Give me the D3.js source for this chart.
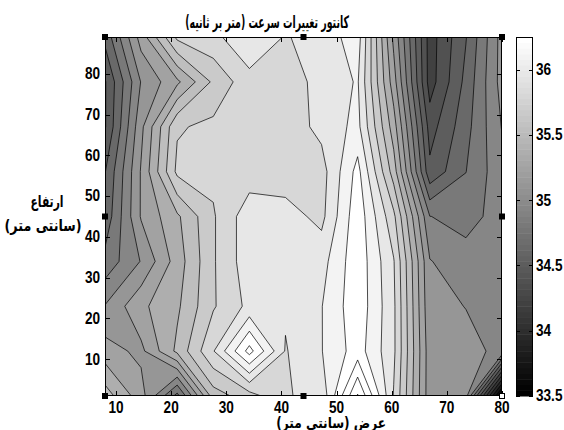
<!DOCTYPE html>
<html>
<head>
<meta charset="utf-8">
<script src="https://cdn.jsdelivr.net/npm/d3@7/dist/d3.min.js"></script>
<style>
  html, body { margin: 0; padding: 0; background: #fff; }
  svg { display: block; }
  .num { font-family: "Liberation Sans", Arial, sans-serif; font-weight: bold; font-size: 16px; fill: #000; }
  .fa  { font-family: "DejaVu Sans", sans-serif; font-weight: bold; fill: #000; direction: rtl; unicode-bidi: embed; }
</style>
</head>
<body>
<svg id="chart" width="564" height="430"></svg>
<script>
// Measurement grid: horizontal positions and heights (cm)
const widthCm  = [8, 14.55, 21.09, 27.64, 34.18, 40.73, 47.27, 53.82, 60.36, 66.91, 73.45, 80];
const heightCm = [1, 12, 23, 34, 45, 56, 67, 78, 89];

// Measured speed (m/s), one row per height, left to right across the width
const speedAt1  = [35.6, 35.3, 34.75, 35.6, 35.75, 35.95, 36.0, 36.7, 35.95, 35.15, 35.15, 33.5];
const speedAt12 = [35.3, 35.2, 35.56, 35.95, 36.45, 35.95, 36.1, 36.32, 35.99, 35.15, 35.12, 35.07];
const speedAt23 = [35.1, 35.35, 35.5, 35.8, 36.0, 35.98, 36.1, 36.35, 35.99, 35.12, 35.09, 35.0];
const speedAt34 = [34.85, 35.1, 35.45, 35.8, 36.05, 36.02, 36.05, 36.35, 35.97, 35.1, 35.0, 35.0];
const speedAt45 = [34.7, 35.25, 35.5, 35.8, 36.05, 36.02, 35.92, 36.35, 35.85, 34.95, 34.9, 35.0];
const speedAt56 = [34.65, 35.25, 35.85, 35.85, 35.88, 35.88, 35.9, 36.3, 35.6, 34.55, 34.8, 35.05];
const speedAt67 = [34.5, 35.2, 35.8, 35.85, 35.85, 35.88, 36.0, 36.15, 35.45, 34.45, 34.75, 35.1];
const speedAt78 = [34.5, 35.1, 35.35, 35.7, 35.91, 35.9, 36.0, 36.12, 35.3, 34.3, 34.7, 35.15];
const speedAt89 = [34.7, 35.3, 35.85, 35.92, 36.08, 35.95, 36.02, 36.18, 35.2, 34.3, 34.65, 35.15];
const speedRows = [speedAt1, speedAt12, speedAt23, speedAt34, speedAt45,
                   speedAt56, speedAt67, speedAt78, speedAt89];

const xTickValues = [10, 20, 30, 40, 50, 60, 70, 80];
const yTickValues = [10, 20, 30, 40, 50, 60, 70, 80];
const colorTickValues = [33.5, 34, 34.5, 35, 35.5, 36];
const colorTickLabels = ["33.5", "34", "34.5", "35", "35.5", "36"];
const colorLimits = [33.5, 36.25];
const levelsBelowTop = 19;   // contour levels between the colour limits

const titleText = "کانتور تغییرات سرعت (متر بر ثانیه)";
const xLabelText = "عرض (سانتی متر)";
const yLabelLines = ["ارتفاع", "(سانتی متر)"];

// ---- layout
const plot = { left: 105, right: 502, top: 37, bottom: 396 };
const bar  = { left: 516, right: 533, top: 37, bottom: 396 };
const digitSqueeze = 0.85;

const svg = d3.select("#chart");
const x = d3.scaleLinear().domain([widthCm[0], widthCm[widthCm.length - 1]]).range([plot.left, plot.right]);
const y = d3.scaleLinear().domain([heightCm[0], heightCm[heightCm.length - 1]]).range([plot.bottom, plot.top]);

// grid index (d3.contours puts sample i at i + 0.5) -> data units
const nx = widthCm.length, ny = heightCm.length;
const gx = d3.scaleLinear().domain([0.5, nx - 0.5]).range([widthCm[0], widthCm[nx - 1]]);
const gy = d3.scaleLinear().domain([0.5, ny - 0.5]).range([heightCm[0], heightCm[ny - 1]]);

// 64-step gray colormap
function grayIndex(v) {
  const t = (v - colorLimits[0]) / (colorLimits[1] - colorLimits[0]);
  return Math.max(0, Math.min(63, Math.floor(t * 64)));
}
function grayOf(idx) { const c = Math.round(idx / 63 * 255); return `rgb(${c},${c},${c})`; }
const gray64 = v => grayOf(grayIndex(v));

const values = [];
speedRows.forEach(row => row.forEach(v => values.push(v)));

// evenly spaced levels; the spacing carries on above the top colour limit
const levelStep = (colorLimits[1] - colorLimits[0]) / levelsBelowTop;
const levels = [];
for (let k = 1; colorLimits[0] + k * levelStep < d3.max(values); k++) {
  levels.push(colorLimits[0] + k * levelStep);
}
const contours = d3.contours().size([nx, ny]).thresholds(levels)(values);

const projection = d3.geoTransform({
  point: function(px, py) { this.stream.point(x(gx(px)), y(gy(py))); }
});
const path = d3.geoPath(projection);

svg.append("defs").append("clipPath").attr("id", "plot-clip")
  .append("rect")
  .attr("x", plot.left).attr("y", plot.top)
  .attr("width", plot.right - plot.left).attr("height", plot.bottom - plot.top);

const field = svg.append("g").attr("clip-path", "url(#plot-clip)");
field.append("rect")
  .attr("x", plot.left).attr("y", plot.top)
  .attr("width", plot.right - plot.left).attr("height", plot.bottom - plot.top)
  .attr("fill", gray64(d3.min(values)));

field.selectAll("path.band").data(contours).join("path")
  .attr("class", "band")
  .attr("d", path)
  .attr("fill", d => gray64(d.value))
  .attr("stroke", "none");

field.selectAll("path.iso").data(contours).join("path")
  .attr("class", "iso")
  .attr("d", path)
  .attr("fill", "none")
  .attr("stroke", "#000")
  .attr("stroke-width", 0.7);

// ---- axes box with inward ticks on all sides
const tickLen = 5;
const axes = svg.append("g").attr("stroke", "#000").attr("stroke-width", 1).attr("fill", "none");
axes.append("rect")
  .attr("x", plot.left + 0.5).attr("y", plot.top + 0.5)
  .attr("width", plot.right - plot.left - 1).attr("height", plot.bottom - plot.top - 1);
xTickValues.forEach(v => {
  const px = Math.round(x(v)) + 0.5;
  axes.append("line").attr("x1", px).attr("x2", px).attr("y1", plot.bottom).attr("y2", plot.bottom - tickLen);
  axes.append("line").attr("x1", px).attr("x2", px).attr("y1", plot.top).attr("y2", plot.top + tickLen);
});
yTickValues.forEach(v => {
  const py = Math.round(y(v)) + 0.5;
  axes.append("line").attr("y1", py).attr("y2", py).attr("x1", plot.left).attr("x2", plot.left + tickLen);
  axes.append("line").attr("y1", py).attr("y2", py).attr("x1", plot.right).attr("x2", plot.right - tickLen);
});

svg.append("g").selectAll("text").data(xTickValues).join("text")
  .attr("class", "num").attr("text-anchor", "middle")
  .attr("transform", d => `translate(${x(d)},413) scale(${digitSqueeze},1)`).text(d => d);
svg.append("g").selectAll("text").data(yTickValues).join("text")
  .attr("class", "num").attr("text-anchor", "end").attr("dominant-baseline", "central")
  .attr("transform", d => `translate(100,${y(d)}) scale(${digitSqueeze},1)`).text(d => d);

// ---- selection handles around the axes
const handles = [
  [plot.left, plot.top], [(plot.left + plot.right) / 2, plot.top], [plot.right, plot.top],
  [plot.left, (plot.top + plot.bottom) / 2], [plot.right, (plot.top + plot.bottom) / 2],
  [plot.left, plot.bottom], [(plot.left + plot.right) / 2, plot.bottom], [plot.right, plot.bottom]
];
svg.append("g").selectAll("rect").data(handles).join("rect")
  .attr("x", d => d[0] - 2.5).attr("y", d => d[1] - 2.5)
  .attr("width", 5).attr("height", 5)
  .attr("fill", (d, i) => i === handles.length - 1 ? "#fff" : "#000")
  .attr("stroke", "#000").attr("stroke-width", 1);

// ---- colorbar
const cy = d3.scaleLinear().domain(colorLimits).range([bar.bottom, bar.top]);
const barSteps = d3.range(64);
const stepH = (bar.bottom - bar.top) / 64;
svg.append("g").selectAll("rect").data(barSteps).join("rect")
  .attr("x", bar.left)
  .attr("y", i => bar.bottom - (i + 1) * stepH)
  .attr("width", bar.right - bar.left)
  .attr("height", stepH + 0.5)
  .attr("fill", i => grayOf(i));
const cb = svg.append("g").attr("stroke", "#000").attr("stroke-width", 1).attr("fill", "none");
cb.append("rect").attr("x", bar.left + 0.5).attr("y", bar.top + 0.5)
  .attr("width", bar.right - bar.left - 1).attr("height", bar.bottom - bar.top - 1);
colorTickValues.forEach(v => {
  const py = Math.round(cy(v)) + 0.5;
  cb.append("line").attr("x1", bar.left).attr("x2", bar.left + 4).attr("y1", py).attr("y2", py);
  cb.append("line").attr("x1", bar.right).attr("x2", bar.right - 4).attr("y1", py).attr("y2", py);
});
svg.append("g").selectAll("text").data(colorTickValues).join("text")
  .attr("class", "num").attr("dominant-baseline", "central")
  .attr("transform", d => `translate(536,${cy(d)}) scale(${digitSqueeze},1)`)
  .text((d, i) => colorTickLabels[i]);

// ---- Persian titles, fitted to their width and centred on a point
function persianLabel(text, size, cx, baseline, width) {
  const t = svg.append("text").attr("class", "fa").attr("font-size", size)
    .attr("x", 0).attr("y", baseline).text(text);
  const bb = t.node().getBBox();
  const s = width / bb.width;
  t.attr("transform", `translate(${cx},0) scale(${s},1) translate(${-(bb.x + bb.width / 2)},0)`);
  return t;
}
persianLabel(titleText, 17, 267, 28, 164);
persianLabel(xLabelText, 15, 331, 428, 110);
persianLabel(yLabelLines[0], 16, 47, 207, 33);
persianLabel(yLabelLines[1], 16, 43, 231, 77);
</script>
</body>
</html>
